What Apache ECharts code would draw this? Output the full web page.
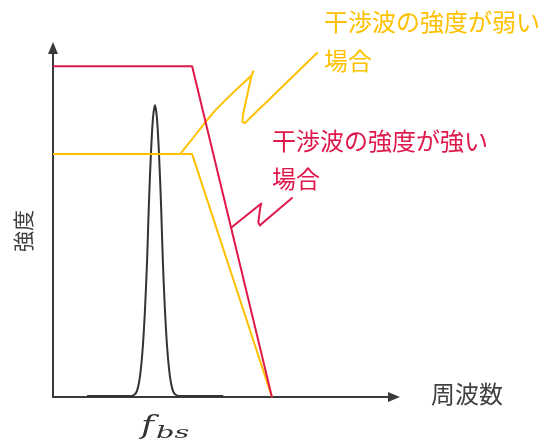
<!DOCTYPE html>
<html>
<head>
<meta charset="utf-8">
<script src="https://cdn.jsdelivr.net/npm/echarts@6/dist/echarts.min.js"></script>
<style>html,body{margin:0;padding:0;background:#fff}#c{width:541px;height:446px}</style>
</head>
<body>
<div id="c"></div>
<script>
// Strong interference (red) spectrum
const strongX = [0, 40.8, 64.2];
const strongY = [94.8, 94.8, 0];
// Weak interference (yellow) spectrum
const weakX = [0, 40.8, 64.2];
const weakY = [69.6, 69.6, 0];
// Beat signal peak at f_bs
const peakX = [10.0, 22.9, 24.0, 24.6, 25.2, 25.8, 26.4, 27.0, 27.6, 28.1, 28.7, 29.3, 29.9, 30.5, 31.1, 31.7, 32.2, 32.8, 33.4, 34.0, 34.6, 35.2, 35.8, 36.9, 49.9];
const peakY = [0.3, 0.3, 0.8, 1.7, 4.0, 8.3, 15.2, 25.5, 39.3, 54.7, 69.3, 79.7, 83.7, 79.7, 69.3, 54.7, 39.3, 25.5, 15.2, 8.3, 4.0, 1.7, 0.8, 0.3, 0.3];
// Leader lines of the callouts (zigzag with rounded turns)
const weakLeaderX = [77.42, 56.89, 56.30, 55.87, 55.57, 55.57, 55.87, 58.06, 58.45, 58.77, 59.03, 58.89, 58.21, 54.25, 50.44, 47.51, 44.57, 41.06, 37.24];
const weakLeaderY = [98.57, 79.08, 78.51, 78.42, 78.80, 79.66, 81.66, 91.40, 92.69, 93.32, 93.29, 92.84, 92.12, 88.54, 84.99, 82.06, 78.62, 74.21, 69.60];
const strongLeaderX = [70.09, 61.29, 60.70, 60.26, 60.21, 60.79, 61.09, 61.38, 61.55, 61.14, 52.49];
const strongLeaderY = [57.02, 49.71, 49.14, 49.28, 50.00, 54.44, 55.44, 55.79, 55.59, 55.01, 48.71];
// Texts
const weakLabel = ['干渉波の強度が弱い', '場合'];
const strongLabel = ['干渉波の強度が強い', '場合'];
const xName = '周波数';
const yName = '強度';

const RED = '#E0174A';
const YEL = '#FFC000';
const AX = '#3a3a3a';
const FONT = '"Noto Sans CJK JP", "Noto Sans", sans-serif';

const zip = (xs, ys) => xs.map((x, i) => [x, ys[i]]);

const chart = echarts.init(document.getElementById('c'), null, {renderer: 'canvas'});
chart.setOption({
  animation: false,
  backgroundColor: '#fff',
  grid: {left: 53, right: 147, top: 48, bottom: 49},
  xAxis: {
    type: 'value', min: 0, max: 100,
    axisLine: {show: true, symbol: ['none', 'triangle'], symbolSize: [10, 12], lineStyle: {color: AX, width: 2}},
    axisTick: {show: false}, axisLabel: {show: false}, splitLine: {show: false}
  },
  yAxis: {
    type: 'value', min: 0, max: 100,
    axisLine: {show: true, symbol: ['none', 'triangle'], symbolSize: [10, 12], lineStyle: {color: AX, width: 2}},
    axisTick: {show: false}, axisLabel: {show: false}, splitLine: {show: false}
  },
  series: [
    {type: 'line', data: zip(peakX, peakY), symbol: 'none', smooth: 0.3, lineStyle: {color: '#333', width: 2}, z: 3},
    {type: 'line', data: zip(weakX, weakY), symbol: 'none', lineStyle: {color: YEL, width: 2}, z: 4},
    {type: 'line', data: zip(strongX, strongY), symbol: 'none', lineStyle: {color: RED, width: 2}, z: 5},
    {type: 'line', data: zip(weakLeaderX, weakLeaderY), symbol: 'none', smooth: false, lineStyle: {color: YEL, width: 2, join: 'round', cap: 'round'}, z: 4},
    {type: 'line', data: zip(strongLeaderX, strongLeaderY), symbol: 'none', smooth: false, lineStyle: {color: RED, width: 2, join: 'round', cap: 'round'}, z: 5}
  ],
  graphic: [
    {type: 'text', left: 324, top: 10, style: {text: weakLabel[0], fill: YEL, font: '24px ' + FONT}},
    {type: 'text', left: 324, top: 49, style: {text: weakLabel[1], fill: YEL, font: '24px ' + FONT}},
    {type: 'text', left: 272, top: 129, style: {text: strongLabel[0], fill: RED, font: '24px ' + FONT}},
    {type: 'text', left: 272, top: 167, style: {text: strongLabel[1], fill: RED, font: '24px ' + FONT}},
    {type: 'text', left: 431, top: 382, style: {text: xName, fill: '#404040', font: '24px ' + FONT}},
    {type: 'text', x: 23, y: 231, rotation: Math.PI / 2, style: {text: yName, fill: '#404040', font: '21px ' + FONT, align: 'center', verticalAlign: 'middle'}},
    {type: 'text', x: 141, y: 414, scaleX: 1.35, style: {text: 'f', fill: '#333', font: 'italic 26px "DejaVu Serif", serif'}},
    {type: 'text', x: 156, y: 425, scaleX: 1.7, style: {text: 'bs', fill: '#333', font: 'italic 17px "DejaVu Serif", serif'}}
  ]
});
</script>
</body>
</html>
